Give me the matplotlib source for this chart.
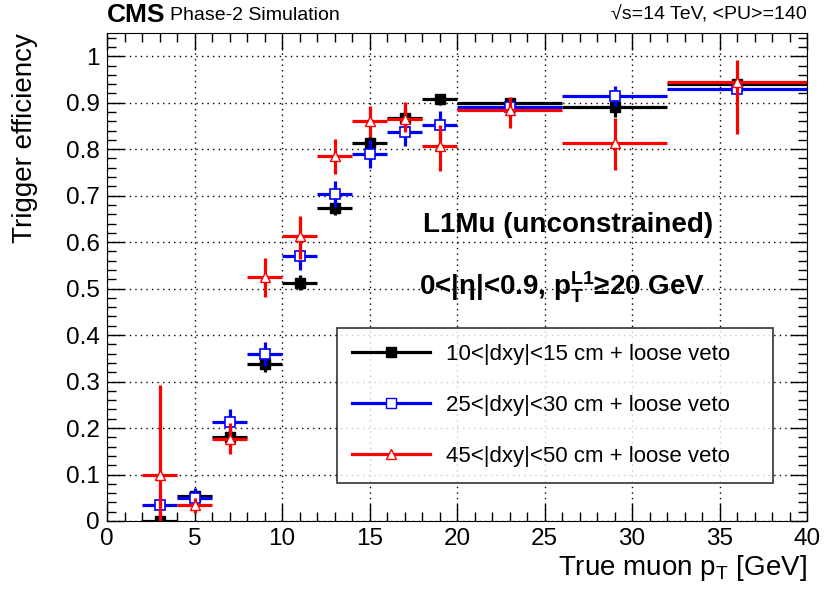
import numpy as np
import matplotlib.pyplot as plt
from matplotlib.ticker import MultipleLocator
from matplotlib.lines import Line2D

plt.rcParams['font.family'] = ['Liberation Sans', 'DejaVu Sans']
plt.rcParams['mathtext.fontset'] = 'custom'
plt.rcParams['mathtext.rm'] = 'Liberation Sans'
plt.rcParams['mathtext.it'] = 'Liberation Sans'
plt.rcParams['mathtext.bf'] = 'Liberation Sans:bold'

# bins of true muon pT
bin_lo = [2, 4, 6, 8, 10, 12, 14, 16, 18, 20, 26, 32]
bin_hi = [4, 6, 8, 10, 12, 14, 16, 18, 20, 26, 32, 40]

eff_10_15 = [0.0, 0.053, 0.180, 0.337, 0.513, 0.674, 0.814, 0.868, 0.907, 0.900, 0.890, 0.940]
err_10_15 = [0.006, 0.012, 0.020, 0.017, 0.016, 0.016, 0.016, 0.020, 0.012, 0.010, 0.020, 0.010]

eff_25_30 = [0.034, 0.050, 0.212, 0.360, 0.571, 0.704, 0.790, 0.836, 0.852, 0.891, 0.914, 0.929]
err_25_30 = [0.022, 0.022, 0.028, 0.026, 0.030, 0.028, 0.030, 0.030, 0.030, 0.015, 0.022, 0.015]

eff_45_50 = [0.098, 0.034, 0.177, 0.525, 0.613, 0.785, 0.860, 0.866, 0.806, 0.884, 0.813, 0.945]
err_lo_45_50 = [0.098, 0.016, 0.032, 0.042, 0.050, 0.038, 0.034, 0.030, 0.052, 0.038, 0.058, 0.113]
err_hi_45_50 = [0.195, 0.016, 0.034, 0.040, 0.044, 0.038, 0.032, 0.036, 0.046, 0.028, 0.054, 0.047]

labels = ['10<|dxy|<15 cm + loose veto',
          '25<|dxy|<30 cm + loose veto',
          '45<|dxy|<50 cm + loose veto']

lo = np.array(bin_lo, dtype=float)
hi = np.array(bin_hi, dtype=float)
xc = (lo + hi) / 2
xe = (hi - lo) / 2

fig = plt.figure(figsize=(8.24, 5.98), dpi=100)
ax = fig.add_axes([0.1299, 0.1288, 0.8495, 0.816])

lw = 2.3
ax.errorbar(xc, eff_10_15, xerr=xe, yerr=err_10_15, fmt='s', color='black',
            ms=7, mfc='black', mec='black', elinewidth=lw, capsize=0, zorder=3)
ax.errorbar(xc, eff_25_30, xerr=xe, yerr=err_25_30, fmt='s', color='blue',
            ms=7, mfc='white', mec='blue', mew=1.2, elinewidth=lw, capsize=0, zorder=4)
ax.errorbar(xc, eff_45_50, xerr=xe, yerr=[err_lo_45_50, err_hi_45_50], fmt='^', color='red',
            ms=7.5, mfc='white', mec='red', mew=1.0, elinewidth=lw, capsize=0, zorder=5)

ax.set_xlim(0, 40)
ax.set_ylim(0, 1.05)
ax.xaxis.set_major_locator(MultipleLocator(5))
ax.xaxis.set_minor_locator(MultipleLocator(1))
ax.yaxis.set_minor_locator(MultipleLocator(0.02))
ax.set_yticks(np.arange(0, 1.01, 0.1))
ax.set_yticklabels(['0', '0.1', '0.2', '0.3', '0.4', '0.5', '0.6', '0.7', '0.8', '0.9', '1'])
ax.tick_params(which='both', direction='in', top=True, right=True, labelsize=17.5, width=1)
ax.tick_params(which='major', length=12, pad=5)
ax.tick_params(which='minor', length=6.5)
ax.grid(True, which='major', color='black', linestyle=(0, (1, 3)), linewidth=1)
ax.set_axisbelow(True)

ax.set_xlabel(r'True muon $\mathregular{p_T}$ [GeV]', fontsize=20, loc='right', labelpad=2)
ax.set_ylabel('Trigger efficiency', fontsize=20, loc='top', labelpad=20)

handles = [
    Line2D([], [], color='black', lw=lw, marker='s', ms=6.5, mfc='black', mec='black'),
    Line2D([], [], color='blue', lw=lw, marker='s', ms=6.5, mfc='white', mec='blue', mew=1.0),
    Line2D([], [], color='red', lw=lw, marker='^', ms=6.5, mfc='white', mec='red', mew=1.0),
]
leg = ax.legend(handles, labels, loc='upper left',
                bbox_to_anchor=(336.7 / 824, 1 - 479 / 598, (773 - 336.7) / 824, 151 / 598),
                bbox_transform=fig.transFigure, mode='expand', fontsize=16, frameon=True,
                fancybox=False, edgecolor='black', handlelength=3.5, handletextpad=0.7,
                labelspacing=1.36, borderpad=0.7, borderaxespad=0)
leg.get_frame().set_linewidth(1.2)
leg.set_zorder(10)

fig.text(568 / 824, 1 - 225 / 598, 'L1Mu (unconstrained)',
         fontsize=20, fontweight='bold', ha='center', va='center')
fig.text(562 / 824, 1 - 287 / 598, r'0<|$\mathbf{\eta}$|<0.9, $\mathbf{p_T^{L1}}$≥20 GeV',
         fontsize=20, fontweight='bold', ha='center', va='center')

fig.text(107 / 824, 1 - 15 / 598, 'CMS', fontsize=19, fontweight='bold', ha='left', va='center')
fig.text(170 / 824, 1 - 15 / 598, 'Phase-2 Simulation', fontsize=14, ha='left', va='center')
fig.text(807 / 824, 1 - 15 / 598, '√s=14 TeV, <PU>=140', fontsize=14, ha='right', va='center')

fig.savefig('out.png', dpi=100)
